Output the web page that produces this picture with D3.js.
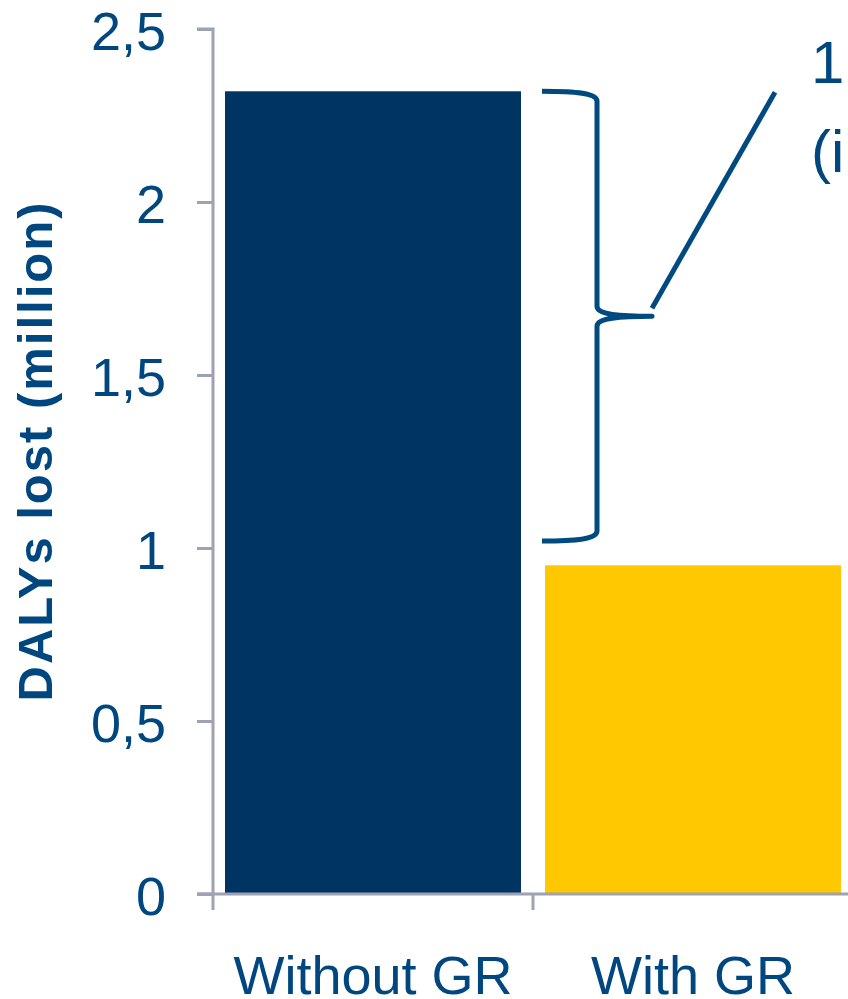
<!DOCTYPE html>
<html>
<head>
<meta charset="utf-8">
<script src="https://cdn.jsdelivr.net/npm/d3@7"></script>
<style>
  html, body { margin: 0; padding: 0; background: #fff; overflow: hidden; }
  svg { display: block; font-family: "Liberation Sans", Arial, sans-serif; }
</style>
</head>
<body>
<svg id="chart" width="848" height="999"></svg>
<script>
// ---- data ----
const categories = ["Without GR", "With GR"];
const values = [2.32, 0.95];
const barColors = ["#003462", "#FFC800"];
const yTicks = [0, 0.5, 1, 1.5, 2, 2.5];
const yTickLabels = ["0", "0,5", "1", "1,5", "2", "2,5"];
const yTitle = "DALYs lost (million)";
const bracketRange = [1.02, 2.32];
const bracketMid = 1.67;
const annotationLines = ["1,4 million DALYs averted", "(i.e. -59%)"];

// ---- layout ----
const svg = d3.select("#chart");
const textColor = "#00477F";
const axisColor = "#9EA2B2";
const x0 = 213, x1 = 853, yBottom = 894, yTop = 29;

const x = d3.scaleBand().domain(categories).range([x0, x1])
  .paddingInner(0.075).paddingOuter(0.0375);
const y = d3.scaleLinear().domain([0, 2.5]).range([yBottom, yTop]);

// bars
svg.selectAll("rect.bar").data(categories).join("rect")
  .attr("class", "bar")
  .attr("x", d => x(d))
  .attr("width", x.bandwidth())
  .attr("y", (d, i) => y(values[i]))
  .attr("height", (d, i) => y(0) - y(values[i]))
  .attr("fill", (d, i) => barColors[i]);

// y axis
const yAxis = d3.axisLeft(y).tickValues(yTicks)
  .tickFormat((d, i) => yTickLabels[i]).tickSize(16).tickPadding(31);
const gy = svg.append("g").attr("transform", `translate(${x0},0)`).call(yAxis);
gy.select(".domain").attr("stroke", axisColor).attr("stroke-width", 3)
  .attr("d", `M-16,${yTop}H0V${yBottom}H-16`);
gy.selectAll(".tick line").attr("stroke", axisColor).attr("stroke-width", 3);
gy.selectAll(".tick text").attr("fill", textColor)
  .style("font-size", "54px").attr("dy", "0.38em")
  .style("font-family", '"Liberation Sans", Arial, sans-serif');

// x axis
const step = x.step();
const boundaries = [x0, x0 + step, x0 + 2 * step];
svg.append("line").attr("x1", x0 - 16).attr("x2", 848).attr("y1", yBottom).attr("y2", yBottom)
  .attr("stroke", axisColor).attr("stroke-width", 3);
svg.selectAll("line.xtick").data(boundaries).join("line")
  .attr("class", "xtick")
  .attr("x1", d => d).attr("x2", d => d)
  .attr("y1", yBottom).attr("y2", yBottom + 16)
  .attr("stroke", axisColor).attr("stroke-width", 3);
svg.selectAll("text.xlab").data(categories).join("text")
  .attr("class", "xlab")
  .attr("x", d => x(d) + x.bandwidth() / 2)
  .attr("y", 994)
  .attr("text-anchor", "middle")
  .attr("fill", textColor)
  .style("font-size", "54px")
  .text(d => d);

// y title
svg.append("text")
  .attr("transform", `translate(52,451) rotate(-90)`)
  .attr("text-anchor", "middle")
  .attr("fill", textColor)
  .style("font-size", "49px")
  .style("font-weight", "bold")
  .style("letter-spacing", "2px")
  .text(yTitle);

// bracket
const bx0 = x(categories[0]) + x.bandwidth() + 21; // left end of arms
const bx = bx0 + 55;       // vertical stroke
const tip = bx + 55;       // cusp tip
const yt = y(bracketRange[1]), yb = y(bracketRange[0]), ym = y(bracketMid);
const p = d3.path();
p.moveTo(bx0, yt);
p.bezierCurveTo(bx - 20, yt, bx, yt + 2, bx, yt + 10);
p.lineTo(bx, ym - 10);
p.bezierCurveTo(bx, ym - 2, bx + 20, ym, tip, ym);
p.bezierCurveTo(bx + 20, ym, bx, ym + 2, bx, ym + 10);
p.lineTo(bx, yb - 10);
p.bezierCurveTo(bx, yb - 2, bx - 20, yb, bx0, yb);
svg.append("path").attr("d", p.toString())
  .attr("fill", "none").attr("stroke", "#004A80").attr("stroke-width", 5)
  .attr("stroke-linejoin", "round");

// leader line
svg.append("line")
  .attr("x1", tip).attr("y1", ym - 8)
  .attr("x2", tip + 123).attr("y2", y(bracketRange[1]) + 1)
  .attr("stroke", "#004A80").attr("stroke-width", 5);

// annotation text (runs off the right edge as in the original)
svg.selectAll("text.ann").data(annotationLines).join("text")
  .attr("class", "ann")
  .attr("x", 811)
  .attr("y", (d, i) => 83 + i * 89)
  .attr("fill", textColor)
  .style("font-size", "60px")
  .text(d => d);
</script>
</body>
</html>
